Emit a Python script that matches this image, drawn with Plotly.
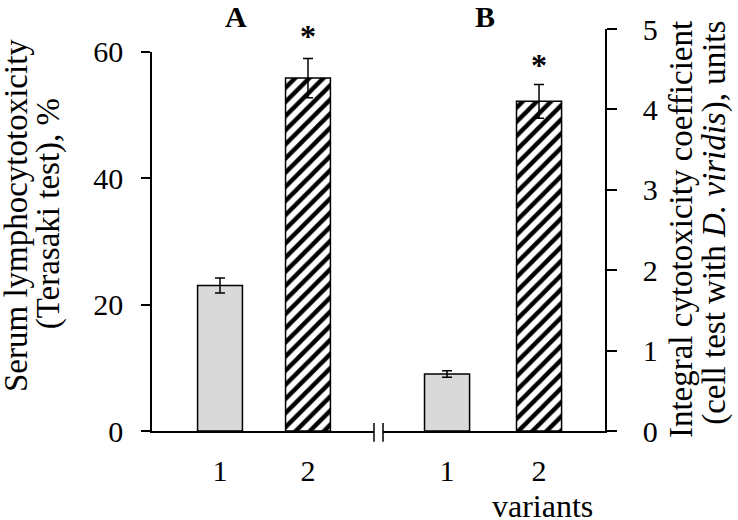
import plotly.graph_objects as go

# ---- data ----
variants = [1, 2]
variant_labels = ["1", "2"]
lympho_values = [23.0, 55.8]      # panel A, %
lympho_errors = [1.2, 3.1]
cyto_values = [0.71, 4.10]        # panel B, units
cyto_errors = [0.04, 0.21]
left_ticks = [0, 20, 40, 60]
right_ticks = [0, 1, 2, 3, 4, 5]

FONT = "Liberation Serif"
GREY = "#d9d9d9"

fig = go.Figure()

bar_fill = [GREY, "white"]
patterns = [dict(shape=""),
            dict(shape="/", fgcolor="black", bgcolor="white", fgopacity=1, size=10, solidity=0.45)]

for i in range(2):
    fig.add_trace(go.Bar(
        x=[variants[i]], y=[lympho_values[i]],
        error_y=dict(type="data", array=[lympho_errors[i]], color="black", thickness=1.5, width=5),
        marker=dict(color=bar_fill[i], line=dict(color="black", width=1.5), pattern=patterns[i]),
        width=0.51, xaxis="x", yaxis="y", showlegend=False))
    fig.add_trace(go.Bar(
        x=[variants[i]], y=[cyto_values[i]],
        error_y=dict(type="data", array=[cyto_errors[i]], color="black", thickness=1.5, width=5),
        marker=dict(color=bar_fill[i], line=dict(color="black", width=1.5), pattern=patterns[i]),
        width=0.49, xaxis="x2", yaxis="y2", showlegend=False))

axis_font = dict(family=FONT, size=30, color="black")

fig.update_layout(
    width=738, height=520,
    margin=dict(l=152, r=133, t=29, b=89),
    paper_bgcolor="white", plot_bgcolor="white",
    font=dict(family=FONT, color="black"),
    barmode="overlay",
    xaxis=dict(domain=[0, 0.49], range=[0.227, 2.75], tickvals=variants, ticktext=variant_labels,
               showline=True, linecolor="black", linewidth=1.5, ticks="", showgrid=False,
               zeroline=False, tickfont=axis_font, ticklabelstandoff=12, anchor="y"),
    xaxis2=dict(domain=[0.51, 1], range=[0.304, 2.717], tickvals=variants, ticktext=variant_labels,
                showline=True, linecolor="black", linewidth=1.5, ticks="", showgrid=False,
                zeroline=False, tickfont=axis_font, ticklabelstandoff=12, anchor="y2"),
    yaxis=dict(domain=[0, 0.944], range=[0, 60], tickvals=left_ticks, showline=True,
               linecolor="black", linewidth=1.5, ticks="outside", ticklen=9, tickwidth=1.5,
               tickcolor="black", showgrid=False, zeroline=False, tickfont=axis_font,
               ticklabelstandoff=12, anchor="x"),
    yaxis2=dict(domain=[0, 1], range=[0, 5], tickvals=right_ticks, side="right", showline=True,
                linecolor="black", linewidth=1.5, ticks="outside", ticklen=10, tickwidth=1.5,
                tickcolor="black", showgrid=False, zeroline=False, tickfont=axis_font,
                ticklabelstandoff=20, anchor="x2"),
)

title_font = dict(family=FONT, size=33, color="black")
ann = [
    # left axis title (two lines)
    dict(text="Serum lymphocytotoxicity", x=-0.300, y=0.535, textangle=-90),
    dict(text="(Terasaki test), %", x=-0.2265, y=0.540, textangle=-90),
    # right axis title (two lines)
    dict(text="Integral cytotoxicity coefficient", x=1.168, y=0.500, textangle=-90),
    dict(text="(cell test with <i>D. viridis</i>), units", x=1.243, y=0.518, textangle=-90),
]
for a in ann:
    fig.add_annotation(xref="paper", yref="paper", xanchor="center", yanchor="middle",
                       showarrow=False, font=title_font, **a)

# panel letters
fig.add_annotation(text="<b>A</b>", xref="x domain", yref="paper", x=0.377, y=1.031,
                   xanchor="center", yanchor="middle",
                   showarrow=False, font=dict(family=FONT, size=30, color="black"))
fig.add_annotation(text="<b>B</b>", xref="x2 domain", yref="paper", x=0.46, y=1.031,
                   xanchor="center", yanchor="middle",
                   showarrow=False, font=dict(family=FONT, size=30, color="black"))

# significance asterisks
fig.add_annotation(text="<b>*</b>", xref="x", yref="y", x=variants[1],
                   y=lympho_values[1] + lympho_errors[1], xanchor="center", yanchor="middle",
                   yshift=22, showarrow=False, font=dict(family=FONT, size=32, color="black"))
fig.add_annotation(text="<b>*</b>", xref="x2", yref="y2", x=variants[1],
                   y=cyto_values[1] + cyto_errors[1], xanchor="center", yanchor="middle",
                   yshift=19, showarrow=False, font=dict(family=FONT, size=32, color="black"))

# x label
fig.add_annotation(text="variants", xref="x2 domain", yref="paper", x=0.72, y=-0.187,
                   xanchor="center", yanchor="middle",
                   showarrow=False, font=dict(family=FONT, size=32, color="black"))

# axis break marks
fig.add_shape(type="line", xref="x domain", yref="paper", x0=1, x1=1, y0=-0.027, y1=0.02,
              line=dict(color="black", width=1.5))
fig.add_shape(type="line", xref="x2 domain", yref="paper", x0=0, x1=0, y0=-0.027, y1=0.02,
              line=dict(color="black", width=1.5))

fig.write_html("out.html", config={"displayModeBar": False},
               post_script="document.body.style.margin='0';document.body.style.overflow='hidden';")
